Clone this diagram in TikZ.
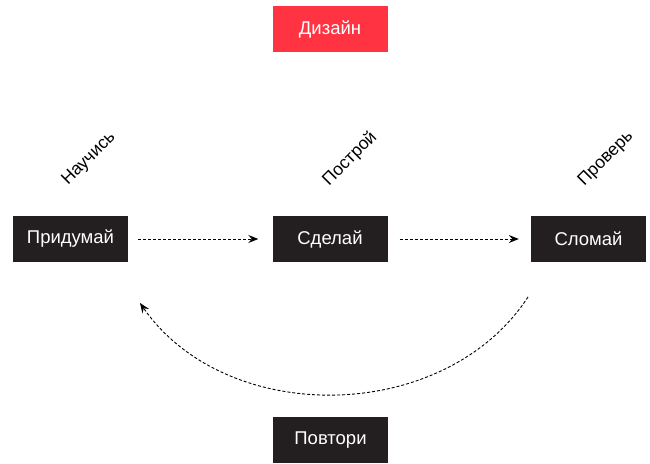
\documentclass[tikz,border=0pt]{standalone}
\usepackage{fontspec}
\setmainfont{Liberation Sans}
\usepackage{tikz}
\usepackage{xcolor}
\usetikzlibrary{arrows.meta}
\usetikzlibrary{calc}

\definecolor{boxdark}{HTML}{231F20}
\definecolor{boxred}{HTML}{FF3341}

\tikzset{
  stage/.style={fill=boxdark, text=white, minimum width=115pt, minimum height=46pt,
    inner sep=0pt, font=\fontsize{18.5}{22}\selectfont},
  tag/.style={rotate=45, font=\fontsize{17.5}{21}\selectfont},
  flow/.style={->, line width=0.9pt, dash pattern=on 3pt off 2pt}
}

\begin{document}
\begin{tikzpicture}[x=1pt, y=1pt, >={Stealth[length=10pt,width=8pt,inset=3.5pt]}]
  \useasboundingbox (0,0) rectangle (650,463);

  \node[stage, fill=boxred] (D) at (330,434) {Дизайн};

  \foreach \x/\n/\txt/\lbl/\lx in {70.5/P/Придумай/Научись/89, 330/S/Сделай/Построй/350, 588.5/L/Сломай/Проверь/606} {
    \node[stage] (\n) at (\x,224) {\txt};
    \node[tag] (T\n) at (\lx,304) {\lbl};
  }

  \node[stage] (R) at (330.5,23) {Повтори};

  \coordinate (C1) at (528,166);
  \coordinate (C2) at (140,160);

  \draw[flow, shorten <=10pt, shorten >=14pt] (P) -- (S);
  \draw[flow, shorten <=12pt, shorten >=12pt] (S) -- (L);
  \draw[flow] (C1) to[bend left=56] (C2);

\end{tikzpicture}
\end{document}
